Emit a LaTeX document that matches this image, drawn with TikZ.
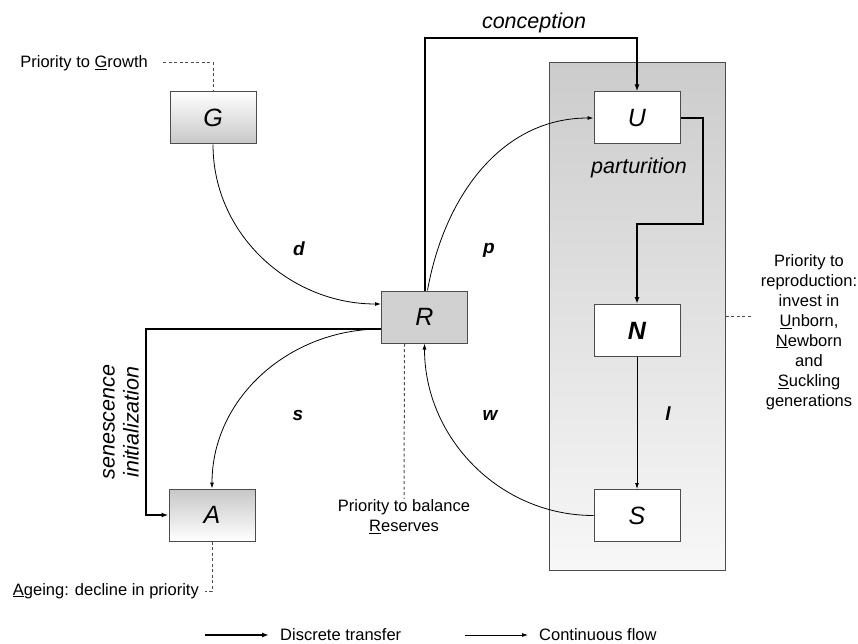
\documentclass[tikz,border=0pt]{standalone}
\usepackage{fontspec}
\setmainfont{Liberation Sans}
\usetikzlibrary{arrows.meta,positioning}

\newcommand{\txtsize}{\fontsize{16.5}{20}\selectfont}
\newcommand{\flowsize}{\fontsize{21.5}{24}\selectfont\itshape}
\newcommand{\ratesize}{\fontsize{19}{22}\selectfont\bfseries\itshape}
\newcommand{\compsize}{\fontsize{25}{30}\selectfont\itshape}

\tikzset{
  comp/.style={draw=black!70, line width=1pt, minimum width=86pt, minimum height=52pt, font=\compsize},
  discrete/.style={line width=2pt, -{Latex[length=7pt,width=5pt]}},
  continuous/.style={line width=0.8pt, -{Latex[length=6pt,width=4pt]}},
  prio/.style={dash pattern=on 3pt off 2.5pt, black!70, line width=1pt},
  txt/.style={font=\txtsize, align=center, inner sep=1pt},
  rate/.style={font=\ratesize}
}

\begin{document}
\begin{tikzpicture}[x=1pt,y=-1pt]
				\useasboundingbox (0,0) rectangle (858,644);
				% reproduction panel
				\node[draw=black!70, line width=1pt, top color=black!20, bottom color=black!3,
				      minimum width=176pt, minimum height=507pt] (panel) at (637,316.5) {};
				
				% compartments
				\node[comp, top color=white, bottom color=black!22] (G) at (213,118) {G};
				\node[comp, fill=black!18] (R) at (424.5,317) {R};
				\node[comp, top color=black!22, bottom color=white] (A) at (212,515) {A};
				\node[comp, fill=white] (U) at (637,118) {U};
				\node[comp, fill=white, font=\compsize\bfseries] (N) at (637,330.5) {N};
				\node[comp, fill=white] (S) at (637,515.5) {S};
				
				% discrete transfers
				\draw[discrete] (R.north) -- ++(0,-252) -| (U.north);
				\node[font=\flowsize] (conc) at (534,23) {conception};
				\draw[discrete] (U.east) -- ++(22,0) -- ++(0,106) -| (N.north);
				\node[font=\flowsize] (part) at (639,168) {parturition};
				\draw[discrete] ([yshift=-12pt]R.west) -- ++(-235,0) |- (A.west);
				\node[font=\flowsize, rotate=90, align=center] (sen) at (121,422) {senescence\\initialization};
				
				% continuous flows
				\draw[continuous] (G.south) to[out=-90, in=180] ([yshift=13pt]R.west);
				\draw[continuous] ([xshift=3pt]R.north) to[out=80, in=180] (U.west);
				\draw[continuous] ([yshift=-12pt]R.west) to[out=180, in=90] (A.north);
				\draw[continuous] (S.west) to[out=180, in=-90] (R.south);
				\draw[continuous] (N.south) -- (S.north);
				\node[rate] (d) at (299,249) {d};
				\node[rate] (p) at (489,250) {p};
				\node[rate] (s) at (298,415) {s};
				\node[rate] (w) at (490,415) {w};
				\node[rate] (l) at (668,414) {l};
				
				% priorities
				\node[txt, anchor=east] (pG) at (149,63) {Priority to \underline{G}rowth};
				\draw[prio] (pG.east) ++(14,0) -| (G.north);
				\node[txt] (pR) at (404,517) {Priority to balance\\\underline{R}eserves};
				\draw[prio] ([xshift=-20pt]R.south) -- (pR.north);
				\node[txt, anchor=east] (pA) at (200,591) {\underline{A}geing: decline in priority};
				\draw[prio] (A.south) |- ([xshift=5pt]pA.east);
				\node[txt] (pU) at (809,332) {Priority to\\reproduction:\\invest in\\\underline{U}nborn,\\\underline{N}ewborn\\and\\\underline{S}uckling\\generations};
				\draw[prio] (panel.east) -- ++(25,0);
				
				% legend
				\coordinate (ld) at (205,635);
				\coordinate (lc) at (465,635);
				\node[txt, anchor=west] (tdisc) at (279,635) {Discrete transfer};
				\node[txt, anchor=west] (tcont) at (538,635) {Continuous flow};
				\draw[discrete, shorten >=10pt] (ld) -- (tdisc.west);
				\draw[continuous, shorten >=10pt] (lc) -- (tcont.west);
			\end{tikzpicture}
\end{document}
